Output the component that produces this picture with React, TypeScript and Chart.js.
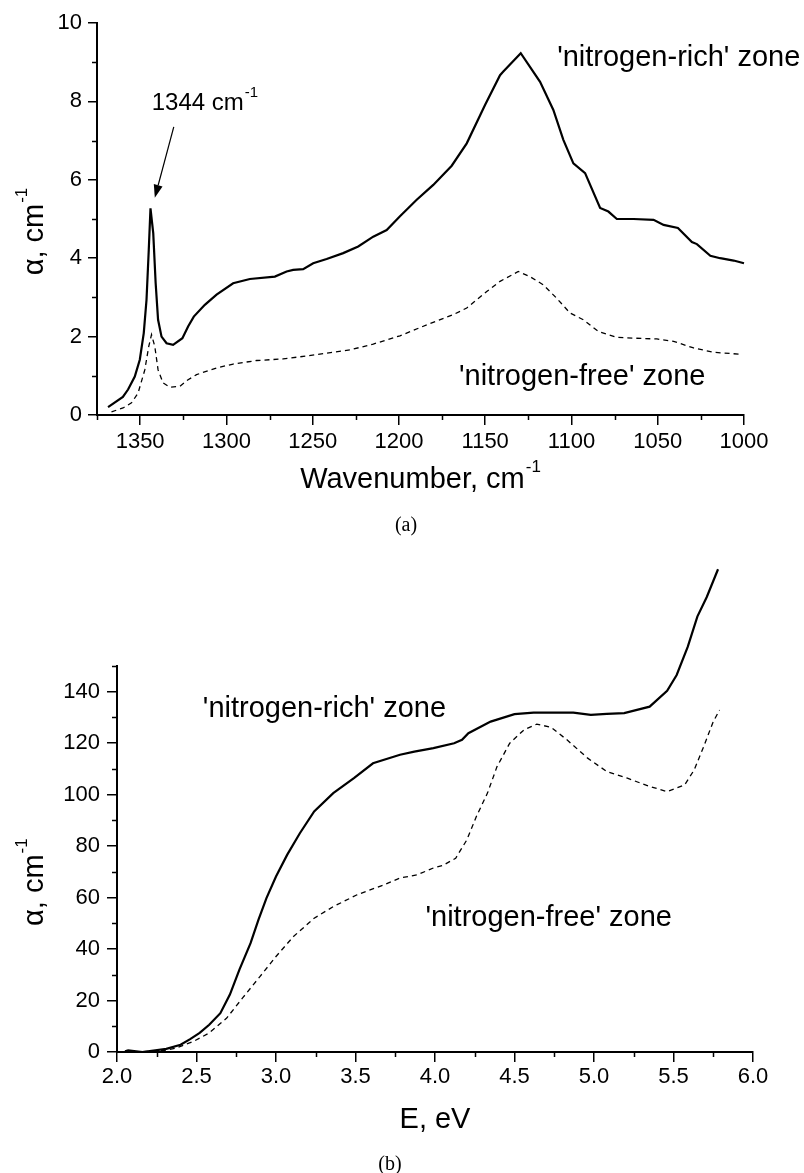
import React, { useEffect, useRef } from "react";
import { Chart, registerables } from "chart.js";

Chart.register(...registerables);

const FONT = "'Liberation Sans', Arial, Helvetica, sans-serif";
const SERIF = "'Liberation Serif', 'Times New Roman', serif";

// ---------- Panel (a): IR absorption vs wavenumber ----------
const wnRich = [
  1368.6, 1360.0, 1357.0, 1353.1, 1350.2, 1347.9, 1346.3, 1345.0, 1344.0, 1342.4,
  1341.0, 1339.6, 1337.6, 1334.7, 1330.9, 1325.5, 1322.2, 1318.9, 1312.5, 1305.7,
  1296.1, 1286.4, 1271.9, 1265.1, 1261.3, 1255.5, 1249.7, 1241.9, 1232.3, 1223.6,
  1214.9, 1207.1, 1199.4, 1189.7, 1180.1, 1169.4, 1160.7, 1150.1, 1141.4, 1139.5,
  1129.4, 1118.2, 1110.5, 1104.7, 1098.9, 1092.1, 1083.4, 1078.6, 1073.7, 1064.0,
  1052.4, 1046.6, 1038.3, 1030.2, 1027.3, 1019.5, 1013.8, 1006.0, 1000.0,
];
const alphaRich = [
  0.20, 0.46, 0.65, 0.98, 1.41, 2.09, 2.94, 4.21, 5.27, 4.64,
  3.36, 2.43, 2.00, 1.83, 1.79, 1.96, 2.26, 2.51, 2.81, 3.07,
  3.36, 3.47, 3.53, 3.66, 3.70, 3.72, 3.87, 3.98, 4.13, 4.30,
  4.55, 4.72, 5.07, 5.49, 5.87, 6.36, 6.93, 7.91, 8.67, 8.76,
  9.23, 8.50, 7.78, 7.02, 6.42, 6.17, 5.28, 5.19, 5.00, 5.00,
  4.98, 4.85, 4.77, 4.41, 4.36, 4.06, 4.00, 3.94, 3.87,
];
const wnFree = [
  1366.6, 1359.9, 1355.0, 1351.2, 1347.3, 1345.0, 1343.4, 1341.5, 1339.6, 1336.7,
  1332.8, 1327.0, 1322.2, 1317.3, 1305.7, 1296.1, 1282.5, 1267.1, 1247.7, 1228.4,
  1214.9, 1199.4, 1183.9, 1168.5, 1160.7, 1149.1, 1141.4, 1130.8, 1124.0, 1116.3,
  1108.6, 1100.8, 1093.1, 1084.4, 1073.7, 1064.0, 1050.5, 1040.8, 1029.2, 1017.6,
  1002.1,
];
const alphaFree = [
  0.08, 0.18, 0.31, 0.56, 1.15, 1.75, 2.05, 1.75, 1.15, 0.82,
  0.71, 0.73, 0.90, 1.03, 1.20, 1.30, 1.39, 1.43, 1.54, 1.66,
  1.81, 2.02, 2.30, 2.56, 2.73, 3.15, 3.41, 3.66, 3.53, 3.32,
  2.98, 2.60, 2.43, 2.13, 1.98, 1.96, 1.94, 1.88, 1.71, 1.60,
  1.55,
];
const wnMin = 1000;
const wnMax = 1375;
const wnStep = 50;
const wnMinorTicks = [1375, 1325, 1275, 1225, 1175, 1125, 1075, 1025];
const alphaAMax = 10;
const alphaAStep = 2;
const alphaAMinorTicks = [1, 3, 5, 7, 9];

// ---------- Panel (b): absorption vs photon energy ----------
const eRich = [
  2.05, 2.07, 2.16, 2.31, 2.40, 2.46, 2.52, 2.58, 2.65, 2.71,
  2.77, 2.84, 2.89, 2.94, 3.00, 3.07, 3.15, 3.24, 3.36, 3.49,
  3.61, 3.78, 3.87, 3.99, 4.12, 4.17, 4.21, 4.35, 4.50, 4.62,
  4.77, 4.87, 4.98, 5.08, 5.19, 5.35, 5.46, 5.52, 5.59, 5.65,
  5.71, 5.78,
];
const alphaBRich = [
  0.3, 0.6, 0.0, 1.2, 2.8, 5.0, 7.4, 10.6, 15.1, 22.3,
  32.0, 42.3, 51.4, 59.8, 68.2, 76.6, 85.0, 93.5, 100.6, 106.4,
  112.2, 115.5, 116.7, 118.1, 120.0, 121.3, 123.9, 128.4, 131.3, 131.9,
  131.9, 131.9, 131.0, 131.4, 131.7, 134.2, 140.4, 146.5, 157.5, 169.2,
  176.9, 187.6,
];
const eFree = [
  2.05, 2.20, 2.30, 2.37, 2.48, 2.58, 2.69, 2.79, 2.90, 3.00,
  3.11, 3.24, 3.36, 3.51, 3.68, 3.78, 3.89, 3.99, 4.05, 4.13,
  4.20, 4.26, 4.33, 4.39, 4.47, 4.56, 4.64, 4.73, 4.83, 4.96,
  5.08, 5.21, 5.34, 5.46, 5.57, 5.63, 5.69, 5.75, 5.79,
];
const alphaBFree = [
  0.1, 0.2, 0.6, 1.5, 4.1, 7.4, 13.2, 21.0, 29.4, 37.1,
  44.9, 52.0, 56.5, 61.1, 65.0, 67.6, 68.9, 71.5, 72.5, 75.3,
  82.4, 91.5, 100.6, 110.9, 120.0, 125.2, 127.4, 126.2, 121.3, 114.2,
  109.0, 106.4, 103.4, 101.2, 103.8, 109.6, 118.7, 128.4, 132.9,
];
const eMin = 2.0;
const eMax = 6.0;
const eStep = 0.5;
const eMinorTicks = [2.25, 2.75, 3.25, 3.75, 4.25, 4.75, 5.25, 5.75];
const alphaBMax = 150;
const alphaBStep = 20;
const alphaBMinorTicks = [10, 30, 50, 70, 90, 110, 130, 150];

// ---------- text ----------
const titleA_x = "Wavenumber, cm";
const titleB_x = "E, eV";
const titleY = "α, cm";
const sup = "-1";
const peakLabel = "1344 cm";
const richLabel = "'nitrogen-rich' zone";
const freeLabel = "'nitrogen-free' zone";

const pts = (xs: number[], ys: number[]) => xs.map((x, i) => ({ x, y: ys[i] }));

function drawSup(
  ctx: CanvasRenderingContext2D,
  x: number,
  y: number,
  main: string,
  s: string,
  size: number,
  supSize: number,
  rise: number,
  align: "left" | "center"
) {
  ctx.font = `${size}px ${FONT}`;
  const w1 = ctx.measureText(main).width;
  ctx.font = `${supSize}px ${FONT}`;
  const w2 = s ? ctx.measureText(s).width : 0;
  const x0 = align === "center" ? x - (w1 + w2 + (s ? 1 : 0)) / 2 : x;
  ctx.textAlign = "left";
  ctx.textBaseline = "alphabetic";
  ctx.font = `${size}px ${FONT}`;
  ctx.fillText(main, x0, y);
  if (s) {
    ctx.font = `${supSize}px ${FONT}`;
    ctx.fillText(s, x0 + w1 + 1, y - rise);
  }
}

function drawMinor(chart: any, xs: number[], ys: number[], len: number) {
  const { ctx, chartArea: ca, scales } = chart;
  ctx.beginPath();
  for (const v of xs) {
    const px = Math.round(scales.x.getPixelForValue(v)) + 0.5;
    ctx.moveTo(px, ca.bottom);
    ctx.lineTo(px, ca.bottom + len);
  }
  for (const v of ys) {
    const py = Math.round(scales.y.getPixelForValue(v)) + 0.5;
    ctx.moveTo(ca.left - len, py);
    ctx.lineTo(ca.left, py);
  }
  ctx.stroke();
}

function axisOpts(
  min: number, max: number, step: number, reverse: boolean, horiz: boolean,
  boxSize: number, pad: number, tl: number, fmt: (v: number) => string
) {
  return {
    type: "linear" as const,
    min,
    max,
    reverse,
    afterFit: (s: any) => {
      if (horiz) s.height = boxSize;
      else s.width = boxSize;
    },
    ticks: {
      stepSize: step,
      includeBounds: false,
      autoSkip: false,
      maxRotation: 0,
      padding: pad,
      color: "#000",
      font: { family: FONT, size: 22 },
      callback: (v: any) => fmt(Number(v)),
    },
    grid: {
      drawOnChartArea: false,
      drawTicks: true,
      tickLength: tl,
      tickWidth: 1.5,
      tickColor: "#000",
      lineWidth: 1.5,
      color: "#000",
    },
    border: { display: true, color: "#000", width: 2 },
  };
}

function lineDs(data: any[], dashed: boolean) {
  return {
    data,
    borderColor: "#000",
    backgroundColor: "#000",
    borderWidth: dashed ? 1.3 : 2.2,
    borderDash: dashed ? [5, 4] : [],
    pointRadius: 0,
    tension: 0,
    fill: false,
    clip: false as any,
  };
}

export default function App() {
  const refA = useRef<HTMLCanvasElement | null>(null);
  const refB = useRef<HTMLCanvasElement | null>(null);

  useEffect(() => {
    document.body.style.margin = "0";
    const overlayA = {
      id: "overlayA",
      afterDraw(chart: any) {
        const { ctx, chartArea: ca, scales } = chart;
        const sx = scales.x, sy = scales.y;
        ctx.save();
        ctx.strokeStyle = "#000";
        ctx.fillStyle = "#000";
        ctx.lineWidth = 1.5;
        drawMinor(chart, wnMinorTicks, alphaAMinorTicks, 5);
        drawSup(ctx, (ca.left + ca.right) / 2, ca.bottom + 73, titleA_x, sup, 29, 17, 16, "center");
        ctx.save();
        ctx.translate(43, sy.getPixelForValue(4.68));
        ctx.rotate(-Math.PI / 2);
        drawSup(ctx, 0, 0, titleY, sup, 29, 17, 16, "center");
        ctx.restore();
        drawSup(ctx, sx.getPixelForValue(1343.3), sy.getPixelForValue(7.78), peakLabel, sup, 24, 15, 13, "left");
        const ax0 = sx.getPixelForValue(1330.5), ay0 = sy.getPixelForValue(7.35);
        const ax1 = sx.getPixelForValue(1341.5), ay1 = sy.getPixelForValue(5.54);
        const ang = Math.atan2(ay1 - ay0, ax1 - ax0);
        const hl = 13, hw = 4.5;
        const bx = ax1 - hl * Math.cos(ang), by = ay1 - hl * Math.sin(ang);
        ctx.lineWidth = 1.2;
        ctx.beginPath();
        ctx.moveTo(ax0, ay0);
        ctx.lineTo(bx, by);
        ctx.stroke();
        ctx.beginPath();
        ctx.moveTo(ax1, ay1);
        ctx.lineTo(bx + hw * Math.sin(ang), by - hw * Math.cos(ang));
        ctx.lineTo(bx - hw * Math.sin(ang), by + hw * Math.cos(ang));
        ctx.closePath();
        ctx.fill();
        ctx.font = `29px ${FONT}`;
        ctx.textAlign = "left";
        ctx.textBaseline = "alphabetic";
        ctx.fillText(richLabel, sx.getPixelForValue(1108.3), sy.getPixelForValue(8.91));
        ctx.fillText(freeLabel, sx.getPixelForValue(1165.2), sy.getPixelForValue(0.77));
        ctx.font = `20px ${SERIF}`;
        ctx.textAlign = "center";
        ctx.fillText("(a)", 406, 530.5);
        ctx.restore();
      },
    };

    const overlayB = {
      id: "overlayB",
      afterDraw(chart: any) {
        const { ctx, chartArea: ca, scales } = chart;
        const sx = scales.x, sy = scales.y;
        ctx.save();
        ctx.strokeStyle = "#000";
        ctx.fillStyle = "#000";
        ctx.lineWidth = 1.5;
        drawMinor(chart, eMinorTicks, alphaBMinorTicks, 5);
        drawSup(ctx, (ca.left + ca.right) / 2, ca.bottom + 76, titleB_x, "", 29, 17, 16, "center");
        ctx.save();
        ctx.translate(43, sy.getPixelForValue(66));
        ctx.rotate(-Math.PI / 2);
        drawSup(ctx, 0, 0, titleY, sup, 29, 17, 16, "center");
        ctx.restore();
        ctx.font = `29px ${FONT}`;
        ctx.textAlign = "left";
        ctx.textBaseline = "alphabetic";
        ctx.fillText(richLabel, sx.getPixelForValue(2.54), sy.getPixelForValue(130.1));
        ctx.fillText(freeLabel, sx.getPixelForValue(3.94), sy.getPixelForValue(48.8));
        ctx.font = `20px ${SERIF}`;
        ctx.textAlign = "center";
        ctx.fillText("(b)", 390, 625);
        ctx.restore();
      },
    };

    const common = {
      responsive: false,
      animation: false as const,
      events: [] as any[],
      plugins: { legend: { display: false }, tooltip: { enabled: false } },
    };

    const chartA = new Chart(refA.current!, {
      type: "line",
      data: {
        datasets: [lineDs(pts(wnRich, alphaRich), false), lineDs(pts(wnFree, alphaFree), true)],
      },
      options: {
        ...common,
        layout: { padding: { left: 27, top: 23, right: 60, bottom: 80 } },
        scales: {
          x: axisOpts(wnMin, wnMax, wnStep, true, true, 50, 4, 10, (v) => String(v)),
          y: axisOpts(0, alphaAMax, alphaAStep, false, false, 70, 6, 9, (v) => String(v)),
        },
      } as any,
      plugins: [overlayA],
    });

    const chartB = new Chart(refB.current!, {
      type: "line",
      data: {
        datasets: [lineDs(pts(eRich, alphaBRich), false), lineDs(pts(eFree, alphaBFree), true)],
      },
      options: {
        ...common,
        layout: { padding: { left: 37, top: 121, right: 51, bottom: 71 } },
        scales: {
          x: axisOpts(eMin, eMax, eStep, false, true, 50, 2, 10, (v) => v.toFixed(1)),
          y: axisOpts(0, alphaBMax, alphaBStep, false, false, 80, 7, 10, (v) => String(v)),
        },
      } as any,
      plugins: [overlayB],
    });

    return () => {
      chartA.destroy();
      chartB.destroy();
    };
  }, []);

  return (
    <div style={{ position: "relative", width: 804, height: 1173 }}>
      <canvas ref={refA} width={804} height={545} style={{ position: "absolute", left: 0, top: 0, display: "block" }} />
      <canvas ref={refB} width={804} height={628} style={{ position: "absolute", left: 0, top: 545, display: "block" }} />
    </div>
  );
}
